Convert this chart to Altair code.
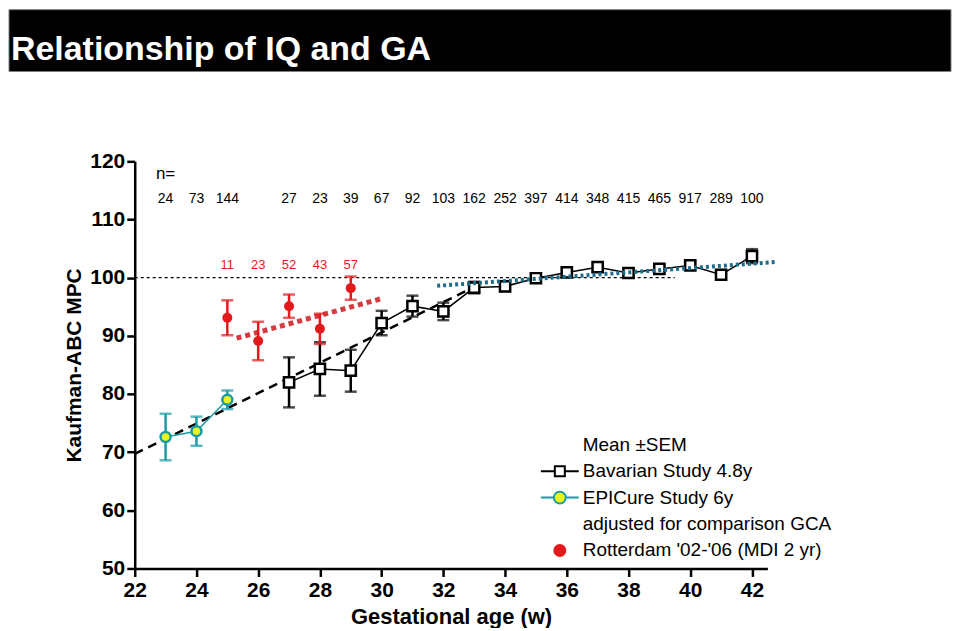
import altair as alt
import pandas as pd

# ---------------- data ----------------
title_text = "Relationship of IQ and GA"

bav_weeks = list(range(27, 43))
bav_mean = [82.0, 84.3, 84.0, 92.2, 95.1, 94.2, 98.3, 98.5, 99.9, 100.9, 101.8, 100.8, 101.5, 102.1, 100.5, 103.7]
bav_sem = [4.3, 4.6, 3.6, 2.1, 1.8, 1.5, 1.0, 0.8, 0.7, 0.7, 0.7, 0.7, 0.7, 0.6, 0.8, 1.2]
bav_n = [27, 23, 39, 67, 92, 103, 162, 252, 397, 414, 348, 415, 465, 917, 289, 100]

epi_weeks = [23, 24, 25]
epi_mean = [72.6, 73.6, 79.0]
epi_sem = [4.0, 2.5, 1.6]
epi_n = [24, 73, 144]

rot_weeks = [25, 26, 27, 28, 29]
rot_mean = [93.1, 89.1, 95.1, 91.2, 98.2]
rot_sem = [3.0, 3.3, 2.0, 2.6, 2.0]
rot_n = [11, 23, 52, 43, 57]

# regression / reference lines (end points)
fit_early_x = [22.0, 33.0]
fit_early_y = [69.7, 98.4]
fit_rot_x = [25.3, 30.0]
fit_rot_y = [89.6, 96.4]
fit_late_x = [31.8, 42.8]
fit_late_y = [98.6, 102.7]
ref_x = [22.0, 39.5]
ref_y = [100.0, 100.0]

n_header = "n="
n_header_week = 23
n_row_value = 113.5
n_header_value = 117.9
rot_n_value = 102.2

legend_labels = ["Mean \u00b1SEM", "Bavarian Study 4.8y", "EPICure Study 6y",
                 "adjusted for comparison GCA", "Rotterdam '02-'06 (MDI 2 yr)"]

# ---------------- styles ----------------
NARROW = "Liberation Sans Narrow, Arial Narrow, Liberation Sans"
SANS = "Liberation Sans, Arial, Helvetica"
TEAL = "#1b9aa6"
YELLOW = "#eef21c"
RED = "#e3191c"
RED_FIT = "#d63b3f"
BLUE_FIT = "#1f6d88"

xscale = alt.Scale(domain=[22, 42.5], nice=False, zero=False)
yscale = alt.Scale(domain=[50, 120], nice=False, zero=False)

xaxis = alt.Axis(values=list(range(22, 43, 2)), format="d", tickSize=8, tickWidth=2.5,
                 domainWidth=2.5, domainColor="black", tickColor="black",
                 labelFont=NARROW, labelFontSize=21, labelFontWeight="bold", labelColor="black",
                 labelPadding=3, labelFlush=False, labelOverlap=False, grid=False,
                 titleFont=NARROW, titleFontSize=22, titleFontWeight="bold", titleColor="black",
                 titlePadding=6)
yaxis = alt.Axis(values=list(range(50, 121, 10)), format="d", tickSize=8, tickWidth=2.5,
                 domainWidth=2.5, domainColor="black", tickColor="black",
                 labelFont=NARROW, labelFontSize=21, labelFontWeight="bold", labelColor="black",
                 labelPadding=2, labelFlush=False, labelOverlap=False, grid=False,
                 titleFont=SANS, titleFontSize=21, titleFontWeight="bold", titleColor="black",
                 titlePadding=5)

XT = "Gestational age (w)"
YT = "Kaufman-ABC MPC"


def X(field):
    return alt.X(field, type="quantitative", scale=xscale, axis=xaxis, title=XT)


def Y(field):
    return alt.Y(field, type="quantitative", scale=yscale, axis=yaxis, title=YT)


bav = pd.DataFrame({"week": bav_weeks, "iq": bav_mean, "sem": bav_sem, "n": bav_n})
epi = pd.DataFrame({"week": epi_weeks, "iq": epi_mean, "sem": epi_sem, "n": epi_n})
rot = pd.DataFrame({"week": rot_weeks, "iq": rot_mean, "sem": rot_sem, "n": rot_n})
n_all = pd.DataFrame({"week": epi_weeks + bav_weeks, "n": epi_n + bav_n,
                      "iq": [n_row_value] * (len(epi_weeks) + len(bav_weeks))})
rot_lab = pd.DataFrame({"week": rot_weeks, "n": rot_n, "iq": [rot_n_value] * len(rot_weeks)})
hdr = pd.DataFrame({"week": [n_header_week], "iq": [n_header_value], "t": [n_header]})


def line_df(xs, ys):
    return pd.DataFrame({"week": xs, "iq": ys})


# ---------------- banner ----------------
banner = alt.Chart(pd.DataFrame({"t": [title_text]})).mark_rect(
    fill="black", stroke="#808080", strokeWidth=1
).encode(x=alt.value(-126), x2=alt.value(818), y=alt.value(-152), y2=alt.value(-90))

banner_text = alt.Chart(pd.DataFrame({"t": [title_text]})).mark_text(
    align="left", baseline="alphabetic", font=NARROW, fontSize=34, fontWeight="bold", color="white"
).encode(x=alt.value(-124), y=alt.value(-102), text="t:N")

# ---------------- lines ----------------
ref_line = alt.Chart(line_df(ref_x, ref_y)).mark_line(
    color="black", strokeWidth=1.2, strokeDash=[3, 3]).encode(x=X("week"), y=Y("iq"))
fit_early = alt.Chart(line_df(fit_early_x, fit_early_y)).mark_line(
    color="black", strokeWidth=2.5, strokeDash=[9, 6]).encode(x=X("week"), y=Y("iq"))
fit_rot = alt.Chart(line_df(fit_rot_x, fit_rot_y)).mark_line(
    color=RED_FIT, strokeWidth=5, strokeDash=[5, 4]).encode(x=X("week"), y=Y("iq"))
fit_late = alt.Chart(line_df(fit_late_x, fit_late_y)).mark_line(
    color=BLUE_FIT, strokeWidth=4, strokeDash=[3, 3]).encode(x=X("week"), y=Y("iq"))


def errbars(df, color):
    return alt.Chart(df).mark_errorbar(ticks=True, size=12, thickness=2.5, color=color).encode(
        x=X("week"), y=Y("iq"), yError="sem:Q")


bav_err = errbars(bav, "black")
bav_line = alt.Chart(bav).mark_line(color="black", strokeWidth=1.5).encode(x=X("week"), y=Y("iq"))
bav_pts = alt.Chart(bav).mark_point(shape="square", filled=True, fill="white", stroke="black",
                                    strokeWidth=2.5, size=105, opacity=1).encode(x=X("week"), y=Y("iq"))

epi_err = errbars(epi, TEAL)
epi_line = alt.Chart(epi).mark_line(color=TEAL, strokeWidth=1.5).encode(x=X("week"), y=Y("iq"))
epi_pts = alt.Chart(epi).mark_point(shape="circle", filled=True, fill=YELLOW, stroke=TEAL,
                                    strokeWidth=2.5, size=100, opacity=1).encode(x=X("week"), y=Y("iq"))

rot_err = errbars(rot, RED)
rot_pts = alt.Chart(rot).mark_point(shape="circle", filled=True, color=RED, size=100,
                                    opacity=1).encode(x=X("week"), y=Y("iq"))

# ---------------- texts ----------------
n_text = alt.Chart(n_all).mark_text(font=NARROW, fontSize=14, color="black").encode(
    x=X("week"), y=Y("iq"), text="n:N")
hdr_text = alt.Chart(hdr).mark_text(font=NARROW, fontSize=17, color="black").encode(
    x=X("week"), y=Y("iq"), text="t:N")
rot_text = alt.Chart(rot_lab).mark_text(font=SANS, fontSize=13, color=RED).encode(
    x=X("week"), y=Y("iq"), text="n:N")

# ---------------- legend (built from scales) ----------------
P_NONE = "M0,0L0,0"
P_BAV = "M-1.9,0L-0.5,0M0.5,0L1.9,0M-0.5,-0.5L0.5,-0.5L0.5,0.5L-0.5,0.5Z"
P_EPI = "M-1.9,0L-0.6,0M0.6,0L1.9,0M-0.6,0A0.6,0.6,0,1,1,0.6,0A0.6,0.6,0,1,1,-0.6,0Z"
P_ROT = "M-0.55,0A0.55,0.55,0,1,1,0.55,0A0.55,0.55,0,1,1,-0.55,0Z"

leg = alt.Legend(title=None, orient="none", legendX=415, legendY=273, padding=0,
                 symbolSize=400, symbolStrokeWidth=2, labelFont=SANS, labelFontSize=19,
                 labelColor="black", labelLimit=500, labelOffset=12, rowPadding=5.5)

legend_layer = alt.Chart(pd.DataFrame({"series": legend_labels})).transform_filter(
    "false"
).mark_point(filled=True, opacity=1).encode(
    shape=alt.Shape("series:N", scale=alt.Scale(domain=legend_labels,
                                                 range=[P_NONE, P_BAV, P_EPI, P_NONE, P_ROT]), legend=leg),
    fill=alt.Fill("series:N", scale=alt.Scale(domain=legend_labels,
                                               range=["transparent", "white", YELLOW, "transparent", RED]), legend=leg),
    stroke=alt.Stroke("series:N", scale=alt.Scale(domain=legend_labels,
                                                   range=["transparent", "black", TEAL, "transparent", RED]), legend=leg),
)

chart = alt.layer(
    banner, banner_text,
    ref_line, fit_early, fit_rot,
    bav_err, bav_line, bav_pts,
    epi_err, epi_line, epi_pts,
    rot_err, rot_pts,
    fit_late,
    n_text, hdr_text, rot_text,
    legend_layer,
).properties(width=634, height=408, padding=0).configure_view(stroke=None)

chart.save("out.html", embed_options={"renderer": "svg", "actions": False})
